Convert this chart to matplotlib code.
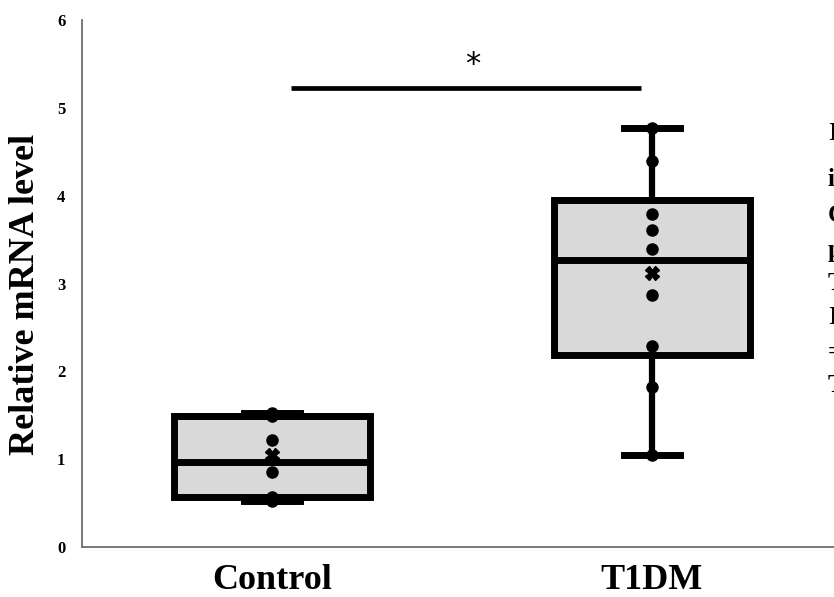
import matplotlib
matplotlib.use("Agg")
import matplotlib.pyplot as plt

# ---- data ----
groups = ["Control", "T1DM"]
whisker_low = [0.52, 1.05]
q1 = [0.57, 2.19]
medians = [0.97, 3.27]
q3 = [1.49, 3.95]
whisker_high = [1.53, 4.77]
means = [1.05, 3.12]
points_control = [1.53, 1.49, 1.22, 0.85, 0.57, 0.52]
points_t1dm = [4.77, 4.39, 3.79, 3.61, 3.39, 2.87, 2.29, 1.82, 1.05]
yticks = [0, 1, 2, 3, 4, 5, 6]
sig_y = 5.23
sig_label = "*"
caption_chars = ["I", "i", "C", "p", "T", "I", "=", "T"]

serif = ["Liberation Serif", "DejaVu Serif"]

fig = plt.figure(figsize=(8.34, 5.97), dpi=100)
W, H = 834, 597
ax = fig.add_axes([82 / W, (H - 547) / H, (834 - 82) / W, (547 - 20) / H])

positions = [1, 2]
stats = []
for i, g in enumerate(groups):
    stats.append(dict(label=g, whislo=whisker_low[i], q1=q1[i], med=medians[i],
                      q3=q3[i], whishi=whisker_high[i], mean=means[i], fliers=[]))

ax.bxp(stats, positions=positions, widths=0.515, patch_artist=True,
       showmeans=True, meanline=False, capwidths=0.147,
       boxprops=dict(facecolor="#d9d9d9", edgecolor="black", linewidth=5),
       medianprops=dict(color="black", linewidth=5, solid_capstyle="butt"),
       whiskerprops=dict(color="black", linewidth=4.5),
       capprops=dict(color="black", linewidth=5),
       meanprops=dict(marker="X", markerfacecolor="black", markeredgecolor="black",
                      markersize=10),
       zorder=2)

for pos, pts in zip(positions, [points_control, points_t1dm]):
    ax.plot([pos] * len(pts), pts, "o", color="black", markersize=8, zorder=4)

# significance bar
ax.plot([1.05, 1.971], [sig_y, sig_y], color="black", linewidth=3.4,
        solid_capstyle="butt", clip_on=False)
ax.text(1.529, sig_y + 0.1, sig_label, ha="center", va="bottom", fontsize=22,
        family="DejaVu Sans")

ax.set_xlim(0.5, 2.479)
ax.set_ylim(0, 6)
ax.set_yticks(yticks)
ax.set_yticklabels([str(t) for t in yticks], fontsize=12, fontweight="bold",
                   family=serif)
ax.set_xticks(positions)
ax.set_xticklabels(groups, fontsize=26, fontweight="bold", family=serif)
ax.tick_params(axis="both", length=0)
ax.tick_params(axis="y", pad=12)
ax.tick_params(axis="x", pad=12)

for s in ["top", "right"]:
    ax.spines[s].set_visible(False)
for s in ["left", "bottom"]:
    ax.spines[s].set_color("#6e6e6e")
    ax.spines[s].set_linewidth(1.3)

ax.set_ylabel("Relative mRNA level", fontsize=26, fontweight="bold", family=serif)
ax.yaxis.set_label_coords(-40 / 752, 0.48)

# clipped caption fragment at right edge (cropped in the reference too)
cap_y = [133, 180, 215, 250, 283, 318, 352, 385]
for ch, yy in zip(caption_chars, cap_y):
    fig.text(828 / W, 1 - yy / H, ch, fontsize=18, fontweight="bold", family=serif,
             ha="left", va="center")

fig.savefig("out.png", dpi=100)
